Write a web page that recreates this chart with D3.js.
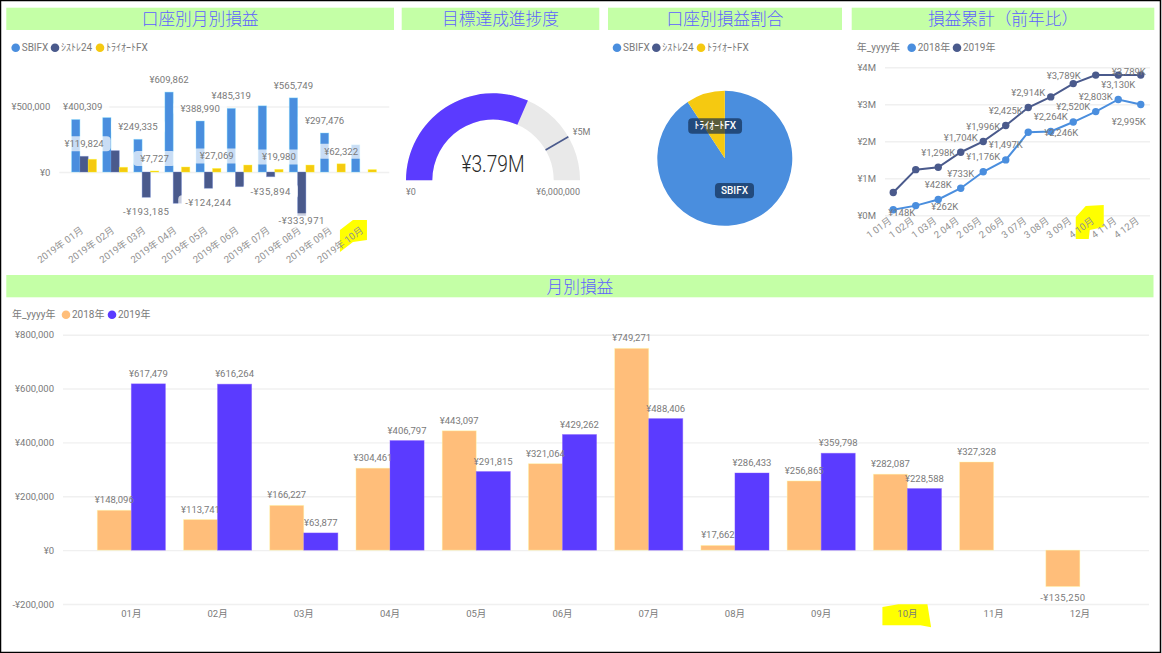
<!DOCTYPE html>
<html>
<head>
<meta charset="utf-8">
<script src="https://cdn.jsdelivr.net/npm/d3@7"></script>
<style>
  html, body { margin: 0; padding: 0; background: #fff; }
  svg { display: block; }
  text { font-family: Roboto, 'Noto Sans CJK JP', sans-serif; fill: #7a7a7a; font-size: 9.5px; }
  .title { font-family: 'Noto Sans CJK JP', sans-serif; font-size: 16.7px; fill: #5f5fff; font-weight: 300; }
</style>
</head>
<body>
<svg id="chart" width="1162" height="653"></svg>
<script>
// account chart (2019)
const accountMonths = ['2019年 01月', '2019年 02月', '2019年 03月', '2019年 04月', '2019年 05月', '2019年 06月', '2019年 07月', '2019年 08月', '2019年 09月', '2019年 10月'];
const accountNames = ['SBIFX', 'ｼｽﾄﾚ24', 'ﾄﾗｲｵｰﾄFX'];
const sbiValues = [400309, 415000, 249335, 609862, 388990, 485319, 505000, 565749, 297476, 207000];
const systemValues = [119824, 163000, -193185, -239000, -124244, -112000, -35894, -333971, null, null];
const toraiValues = [97000, 36000, 7727, 38000, 27069, 53000, 19980, 53000, 62322, 18000];
// months of each series that carry a data label
const sbiLabelled = [0, 2, 3, 4, 5, 7, 8];
const systemLabelled = [0, 2, 4, 6, 7];
const toraiLabelled = [2, 4, 6, 8];

// gauge
const gaugeValue = 3788719;
const gaugeTarget = 5000000;
const gaugeMax = 6000000;

// pie
const pieValues = [3623000, 0, 370000];

// cumulative chart
const cumulativeMonths = ['1 01月', '1 02月', '1 03月', '2 04月', '2 05月', '2 06月', '3 07月', '3 08月', '3 09月', '4 10月', '4 11月', '4 12月'];
const cumulative2018 = [148096, 261837, 428064, 732525, 1175622, 1496686, 2245957, 2263619, 2520484, 2802571, 3129899, 2994649];
const cumulative2019 = [617479, 1233743, 1297620, 1704417, 1996232, 2425494, 2913900, 3200333, 3560131, 3788719, 3788719, 3788719];
const cumulative2019Labelled = [2, 3, 4, 5, 6, 9, 11];

// monthly chart
const months = ['01月', '02月', '03月', '04月', '05月', '06月', '07月', '08月', '09月', '10月', '11月', '12月'];
const monthly2018 = [148096, 113741, 166227, 304461, 443097, 321064, 749271, 17662, 256865, 282087, 327328, -135250];
const monthly2019 = [617479, 616264, 63877, 406797, 291815, 429262, 488406, 286433, 359798, 228588, null, null];

const BLUE = '#4a8ede', NAVY = '#4a5a8c', GOLD = '#f5c911', PEACH = '#ffbe7a', PURPLE = '#5b3bff';
const GRID = '#f0f0f0';

const svg = d3.select('#chart');
const yen = v => (v < 0 ? '-¥' : '¥') + d3.format(',')(Math.abs(v));

function titleBar(x0, x1, y0, y1, label) {
    svg.append('rect').attr('x', x0).attr('y', y0).attr('width', x1 - x0).attr('height', y1 - y0).attr('fill', '#c4ffa6');
    svg.append('text').attr('class', 'title').attr('x', (x0 + x1) / 2).attr('y', (y0 + y1) / 2 + 0.5)
        .attr('dy', '0.36em').attr('text-anchor', 'middle').text(label);
}

function legend(y, items) {
    items.forEach(d => {
        if (d.color) svg.append('circle').attr('cx', d.x).attr('cy', y).attr('r', 4.3).attr('fill', d.color);
        svg.append('text').attr('x', d.color ? d.x + 6 : d.x).attr('y', y).attr('dy', '0.35em')
            .style('font-size', '10px').text(d.label);
    });
}

function yAxis(scale, x0, x1, tickValues, format) {
    const g = svg.append('g').attr('transform', `translate(${x0},0)`)
        .call(d3.axisLeft(scale).tickValues(tickValues).tickSize(-(x1 - x0)).tickPadding(9).tickFormat(format));
    g.select('.domain').remove();
    g.selectAll('line').attr('stroke', GRID).attr('stroke-width', 1.4);
    return g;
}

function rotatedAxis(scale, y, shift) {
    const g = svg.append('g').attr('transform', `translate(${shift},${y})`)
        .call(d3.axisBottom(scale).tickSize(0));
    g.select('.domain').remove();
    g.selectAll('text').attr('text-anchor', 'end').attr('x', 0).attr('y', 0).attr('dy', '0.35em')
        .attr('transform', 'rotate(-36)').style('font-size', '9.6px').style('fill', '#929292');
}

// freehand marker behind a tick label
function marker(cx, points) {
    svg.append('polygon').attr('fill', '#ffff00')
        .attr('points', points.map(p => [cx + p[0], p[1]].join(',')).join(' '));
}

// ---- 口座別月別損益
titleBar(6.3, 394, 7.7, 30, '口座別月別損益');
legend(47.7, [{ x: 15.7, color: BLUE, label: accountNames[0] }, { x: 55, color: NAVY, label: accountNames[1] }, { x: 100, color: GOLD, label: accountNames[2] }]);

const ax0 = d3.scaleBand().domain(accountMonths).range([68.5, 379.5]).paddingInner(0.2).paddingOuter(0.1);
const ax1 = d3.scaleBand().domain(accountNames).range([0, ax0.bandwidth()]);
const ay = d3.scaleLinear().domain([0, 500000]).range([172, 106.5]);

yAxis(ay, 59.3, 389.3, [0, 500000], yen);
marker(ax0('2019年 10月') + ax0.bandwidth() / 2, [[-24, 230], [-11, 220], [3, 220], [3, 240], [-11, 242], [-24, 252]]);
rotatedAxis(ax0, 229, -2);

const accountSeries = [
    { name: accountNames[0], values: sbiValues, color: BLUE, labelled: sbiLabelled },
    { name: accountNames[1], values: systemValues, color: NAVY, labelled: systemLabelled },
    { name: accountNames[2], values: toraiValues, color: GOLD, labelled: toraiLabelled },
];

const accountLabels = [];
accountSeries.forEach(s => {
    s.values.forEach((v, i) => {
        if (v === null) return;
        const x = ax0(accountMonths[i]) + ax1(s.name);
        svg.append('rect').attr('x', x).attr('y', ay(Math.max(v, 0)))
            .attr('width', ax1.bandwidth()).attr('height', Math.abs(ay(v) - ay(0)))
            .attr('fill', s.color).attr('stroke', d3.color(s.color).brighter(1.2)).attr('stroke-opacity', 0.45).attr('stroke-width', 0.8);
        if (s.labelled.includes(i)) {
            // first label is pushed clear of the axis, the lowest one pulled back into the plot
            const dx = (s.name === accountNames[0] && i === 0) ? 7 : 0;
            const dy = (s.name === accountNames[1] && i === 7) ? -9.5 : 0;
            accountLabels.push({
                x: x + ax1.bandwidth() / 2 + dx,
                y: ay(v) + (v < 0 ? 14.5 : -12.5) + dy,
                text: yen(v),
                negative: v < 0,
            });
        }
    });
});

const labelBack = svg.append('g');
const labelFront = svg.append('g');
accountLabels.forEach(d => {
    const t = labelFront.append('text').attr('x', d.x).attr('y', d.y).attr('dy', '0.35em')
        .attr('text-anchor', 'middle').style('font-size', '9.6px')
        .style('letter-spacing', d.negative ? '0.5px' : null).text(d.text);
    const w = t.node().getComputedTextLength() + 14;
    labelBack.append('rect').attr('x', d.x - w / 2).attr('y', d.y - 7.5).attr('width', w).attr('height', 15)
        .attr('rx', 4).attr('fill', '#fff').attr('fill-opacity', 0.7);
});

// ---- 目標達成進捗度
titleBar(401.7, 599.3, 7.7, 30, '目標達成進捗度');
const gaugeX = 493, gaugeY = 180.3, gaugeOuter = 87, gaugeInner = 60.7;
const gaugeAngle = d3.scaleLinear().domain([0, gaugeMax]).range([-Math.PI / 2, Math.PI / 2]);
const gaugeArc = d3.arc().innerRadius(gaugeInner).outerRadius(gaugeOuter);
const gauge = svg.append('g').attr('transform', `translate(${gaugeX},${gaugeY})`);
gauge.append('path').attr('fill', '#e9e9e9').attr('d', gaugeArc({ startAngle: gaugeAngle(0), endAngle: gaugeAngle(gaugeMax) }));
gauge.append('path').attr('fill', PURPLE).attr('d', gaugeArc({ startAngle: gaugeAngle(0), endAngle: gaugeAngle(gaugeValue) }));
const targetAngle = gaugeAngle(gaugeTarget);
gauge.append('line')
    .attr('x1', gaugeInner * Math.sin(targetAngle)).attr('y1', -gaugeInner * Math.cos(targetAngle))
    .attr('x2', gaugeOuter * Math.sin(targetAngle)).attr('y2', -gaugeOuter * Math.cos(targetAngle))
    .attr('stroke', NAVY).attr('stroke-width', 1.6);
// the source uses a narrow light face, so squeeze Roboto Light to the same width
gauge.append('text').attr('x', 0).attr('y', -16.5).attr('dy', '0.36em').attr('text-anchor', 'middle')
    .attr('textLength', 63).attr('lengthAdjust', 'spacingAndGlyphs')
    .style('font-size', '24px').style('font-weight', 300).style('fill', '#2a2a2a').text('¥3.79M');
gauge.append('text').attr('x', -gaugeOuter).attr('y', 11.5).attr('dy', '0.35em').style('font-size', '9px').text(yen(0));
gauge.append('text').attr('x', gaugeOuter).attr('y', 11.5).attr('dy', '0.35em').attr('text-anchor', 'end').style('font-size', '9px').text(yen(gaugeMax));
gauge.append('text').attr('x', 79.7).attr('y', -48.3).attr('dy', '0.35em').style('font-size', '9px').text('¥5M');

// ---- 口座別損益割合
titleBar(608, 842, 7.7, 30, '口座別損益割合');
legend(47.7, [{ x: 617, color: BLUE, label: accountNames[0] }, { x: 656.3, color: NAVY, label: accountNames[1] }, { x: 701, color: GOLD, label: accountNames[2] }]);
const pieColors = d3.scaleOrdinal().domain(accountNames).range([BLUE, NAVY, GOLD]);
const pieArcs = d3.pie().sort(null)(pieValues);
const pieArc = d3.arc().innerRadius(0).outerRadius(67.5);
const pie = svg.append('g').attr('transform', 'translate(724.8,158.3)');
pie.selectAll('path').data(pieArcs).join('path')
    .attr('fill', (d, i) => pieColors(accountNames[i])).attr('d', pieArc);
pieArcs.forEach((d, i) => {
    if (d.value === 0) return;
    const [cx, cy] = pieArc.centroid(d);
    const back = pie.append('rect').attr('fill', '#10294e').attr('fill-opacity', 0.68).attr('rx', 4);
    const t = pie.append('text').attr('x', cx).attr('y', cy).attr('dy', '0.35em').attr('text-anchor', 'middle')
        .style('fill', '#fff').style('font-size', '10px').style('font-weight', 500).text(accountNames[i]);
    const w = t.node().getComputedTextLength() + 12;
    back.attr('x', cx - w / 2).attr('y', cy - 7.7).attr('width', w).attr('height', 15.4);
});

// ---- 損益累計（前年比）
titleBar(851.7, 1154.3, 7.7, 30, '損益累計（前年比）');
legend(47.7, [{ x: 856.7, label: '年_yyyy年' }, { x: 911.7, color: BLUE, label: '2018年' }, { x: 957, color: NAVY, label: '2019年' }]);
const cx0 = d3.scaleBand().domain(cumulativeMonths).range([882, 1152]);
const cy0 = d3.scaleLinear().domain([0, 4000000]).range([215.3, 67.3]);
yAxis(cy0, 885, 1150, [0, 1000000, 2000000, 3000000, 4000000], v => `¥${v / 1000000}M`);
marker(cx0('4 10月') + cx0.bandwidth() / 2, [[-20, 217], [-10, 206], [8, 205], [8, 227], [-6, 230], [-7, 239], [-20, 239]]);
rotatedAxis(cx0, 219.5, -3);

const cumulativeX = i => cx0(cumulativeMonths[i]) + cx0.bandwidth() / 2;
const cumulativeLine = d3.line().x((d, i) => cumulativeX(i)).y(d => cy0(d));
[[cumulative2019, NAVY], [cumulative2018, BLUE]].forEach(([values, color]) => {
    svg.append('path').attr('fill', 'none').attr('stroke', color).attr('stroke-width', 2).attr('d', cumulativeLine(values));
    values.forEach((v, i) => {
        svg.append('circle').attr('cx', cumulativeX(i)).attr('cy', cy0(v)).attr('r', 3.7).attr('fill', color);
    });
});

// label layout: most sit above the point, the collided ones were moved by the chart
const nudge2018 = { 0: [8.5, 3], 1: [29, 1], 6: [33, 0], 11: [-12, 17] };
const nudge2019 = { 9: [-32, 1], 11: [-12, -3] };
const kYen = v => `¥${d3.format(',')(Math.round(v / 1000))}K`;
function cumulativeLabel(v, i, nudge) {
    const [dx, dy] = nudge[i] || [0, -15];
    svg.append('text').attr('x', cumulativeX(i) + dx).attr('y', cy0(v) + dy).attr('dy', '0.35em')
        .attr('text-anchor', 'middle').text(kYen(v));
}
cumulative2018.forEach((v, i) => cumulativeLabel(v, i, nudge2018));
cumulative2019Labelled.forEach(i => cumulativeLabel(cumulative2019[i], i, nudge2019));

// ---- 月別損益
titleBar(6.3, 1153.5, 275, 297.3, '月別損益');
legend(314.7, [{ x: 12, label: '年_yyyy年' }, { x: 66, color: PEACH, label: '2018年' }, { x: 112, color: PURPLE, label: '2019年' }]);
const mx0 = d3.scaleBand().domain(months).range([88.2, 1123]).paddingInner(0.21).paddingOuter(0.105);
const mx1 = d3.scaleBand().domain(['2018', '2019']).range([0, mx0.bandwidth()]);
const my = d3.scaleLinear().domain([-200000, 800000]).range([604, 334.7]);

yAxis(my, 63, 1149, [-200000, 0, 200000, 400000, 600000, 800000], yen);
marker(mx0('10月') + mx0.bandwidth() / 2, [[-25, 607], [-9, 604.3], [20, 604.3], [23.7, 627.3], [13, 625.3], [-12, 625.3], [-25, 625.3]]);
const bottomAxis = svg.append('g').attr('transform', 'translate(0,604)')
    .call(d3.axisBottom(mx0).tickSize(0).tickPadding(6.5));
bottomAxis.select('.domain').remove();

[['2018', monthly2018, PEACH], ['2019', monthly2019, PURPLE]].forEach(([year, values, color]) => {
    values.forEach((v, i) => {
        if (v === null) return;
        const x = mx0(months[i]) + mx1(year);
        svg.append('rect').attr('x', x).attr('y', my(Math.max(v, 0)))
            .attr('width', mx1.bandwidth()).attr('height', Math.abs(my(v) - my(0)))
            .attr('fill', color).attr('stroke', d3.color(color).brighter(1)).attr('stroke-opacity', 0.5).attr('stroke-width', 0.8);
    });
});
[['2018', monthly2018], ['2019', monthly2019]].forEach(([year, values]) => {
    values.forEach((v, i) => {
        if (v === null) return;
        svg.append('text').attr('x', mx0(months[i]) + mx1(year) + mx1.bandwidth() / 2)
            .attr('y', my(v) + (v < 0 ? 11.5 : -10.3)).attr('dy', '0.35em')
            .attr('text-anchor', 'middle').style('letter-spacing', v < 0 ? '0.4px' : null).text(yen(v));
    });
});

// frame of the screenshot
svg.append('rect').attr('x', 0.5).attr('y', 0.5).attr('width', 1160).attr('height', 652)
    .attr('fill', 'none').attr('stroke', '#000').attr('stroke-width', 1.5);
</script>
</body>
</html>
